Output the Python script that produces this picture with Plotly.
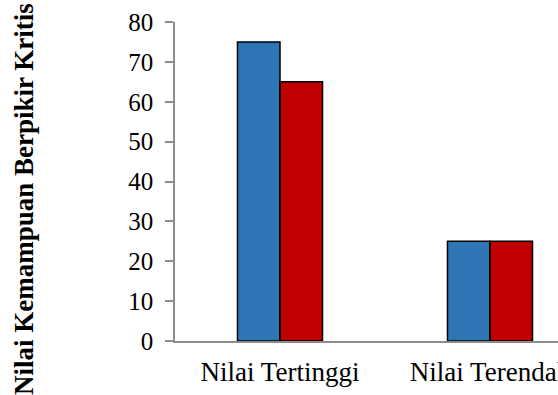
import plotly.graph_objects as go

categories = ["Nilai Tertinggi", "Nilai Terendah"]
series_a = [75, 25]
series_b = [65, 25]
y_ticks = [0, 10, 20, 30, 40, 50, 60, 70, 80]
y_title = "Nilai Kemampuan Berpikir Kritis"

FONT = "Liberation Serif, Times New Roman, serif"

fig = go.Figure()
fig.add_trace(go.Bar(
    x=categories, y=series_a, name="A",
    marker=dict(color="#2E75B6", line=dict(color="#000000", width=1.5)),
))
fig.add_trace(go.Bar(
    x=categories, y=series_b, name="B",
    marker=dict(color="#C00000", line=dict(color="#000000", width=1.5)),
))

L, T, B, W, H = 175, 22, 54, 558, 395
plot_w = W - L
plot_h = H - T - B

fig.update_layout(
    width=W, height=H,
    margin=dict(l=L, r=0, t=T, b=B),
    paper_bgcolor="white", plot_bgcolor="white",
    barmode="group", bargap=0.595, bargroupgap=0,
    showlegend=False,
    font=dict(family=FONT, color="#000000"),
)
fig.update_xaxes(
    type="category", automargin=False,
    range=[-0.5, -0.5 + plot_w / 210],
    showline=True, linecolor="#8c8c8c", linewidth=1.5,
    ticks="", tickfont=dict(size=27, family=FONT),
    showgrid=False, zeroline=False,
    ticklabelstandoff=6,
)
fig.update_yaxes(
    automargin=False,
    range=[0, 80], tickvals=y_ticks,
    showline=True, linecolor="#8c8c8c", linewidth=1.5,
    ticks="outside", ticklen=8, tickcolor="#8c8c8c", tickwidth=1.5,
    tickfont=dict(size=25, family=FONT),
    showgrid=False, zeroline=False,
    ticklabelstandoff=7,
)

# rotated y-axis title placed at the left edge
fig.add_annotation(
    text="<b>" + y_title + "</b>",
    xref="paper", yref="paper",
    x=(24 - L) / plot_w, y=(H - B - 199) / plot_h,
    xanchor="center", yanchor="middle",
    textangle=-90, showarrow=False,
    font=dict(size=27, family=FONT, color="#000000"),
)

fig.write_html("out.html")
